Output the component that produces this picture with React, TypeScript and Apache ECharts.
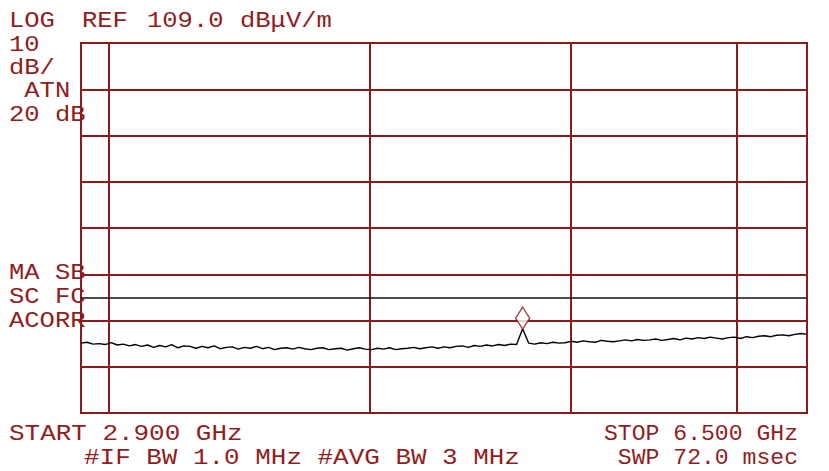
import React, { useEffect, useRef } from "react";
import * as echarts from "echarts";

// ---- data ----
const REF_LEVEL = 109.0; // dBμV/m at top graticule
const DB_PER_DIV = 10;
const DIVISIONS = 8;
const START_GHZ = 2.9;
const STOP_GHZ = 6.5;
const GRID_FREQS_GHZ = [3.04, 4.33, 5.33, 6.15];
const LIMIT_LEVEL = 54.0;
const MARKER_INDEX = 73;
const MARKER_LEVEL = 49.5;
const TRACE_LEVELS = [
  44.1, 44.3, 43.9, 44.0, 43.8, 44.2, 43.7, 43.9, 43.5, 43.8,
  43.4, 43.7, 43.2, 43.6, 43.3, 43.8, 43.1, 43.5, 43.4, 43.0,
  43.4, 43.1, 43.5, 42.9, 43.2, 43.3, 42.8, 43.2, 43.0, 43.4,
  42.9, 43.2, 42.7, 43.0, 43.1, 42.8, 43.2, 42.9, 42.7, 43.0,
  43.1, 42.7, 42.9, 43.0, 42.6, 42.9, 43.1, 42.8, 42.7, 43.0,
  42.8, 43.1, 42.7, 42.9, 43.0, 43.2, 42.9, 43.1, 43.3, 43.0,
  43.3, 43.1, 43.4, 43.5, 43.2, 43.6, 43.4, 43.7, 43.5, 43.8,
  43.6, 43.9, 43.8, 47.2, 44.1, 43.9, 44.2, 44.0, 44.3, 44.1,
  44.2, 44.5, 44.3, 44.6, 44.4, 44.3, 44.7, 44.5, 44.4, 44.6,
  44.8, 44.6, 44.9, 44.7, 44.8, 45.0, 44.7, 44.9, 45.1, 44.8,
  45.2, 45.0, 45.3, 45.1, 45.4, 45.2, 45.0, 45.3, 45.4, 45.1,
  45.5, 45.3, 45.6, 45.7, 45.5, 45.8, 45.9, 45.7, 46.0, 46.2, 46.0,
];
const HEADER_PARTS = ["LOG", "REF", "109.0", "dBμV/m"];
const LEFT_NOTES = ["10", "dB/", " ATN", "20 dB"];
const STATUS_NOTES = ["MA SB", "SC FC", "ACORR"];
const FOOTER_LEFT = ["START 2.900 GHz", "#IF BW 1.0 MHz #AVG BW 3 MHz"];
const FOOTER_RIGHT = ["STOP 6.500 GHz", "SWP 72.0 msec"];

const RED = "#8b1a1a";
const TEXT_RED = "#931c1c";
const FONT = "Liberation Mono";

function txt(text: string, x: number, y: number, align: string, scaleX: number) {
  return {
    type: "text",
    x,
    y,
    scaleX,
    silent: true,
    z: 100,
    style: {
      text,
      fill: TEXT_RED,
      font: `22px "${FONT}"`,
      align,
      verticalAlign: "middle",
    },
  };
}

export default function App() {
  const ref = useRef<HTMLDivElement>(null);
  useEffect(() => {
    if (!ref.current) return;
    const chart = echarts.init(ref.current, undefined, { renderer: "svg" });
    const n = TRACE_LEVELS.length;
    const step = (STOP_GHZ - START_GHZ) / (n - 1);
    const trace = TRACE_LEVELS.map((v, i) => [START_GHZ + i * step, v - REF_LEVEL]);
    const markerFreq = START_GHZ + MARKER_INDEX * step;

    const headerX = [9, 82, 147, 240];
    const graphics: any[] = [];
    HEADER_PARTS.forEach((t, i) => graphics.push(txt(t, headerX[i], 21, "left", 1.16)));
    const leftY = [45, 68, 91, 115];
    LEFT_NOTES.forEach((t, i) => graphics.push(txt(t, 9, leftY[i], "left", 1.16)));
    const statusY = [273, 297, 321];
    STATUS_NOTES.forEach((t, i) => graphics.push(txt(t, 9, statusY[i], "left", 1.16)));
    graphics.push(txt(FOOTER_LEFT[0], 9, 434, "left", 1.18));
    graphics.push(txt(FOOTER_LEFT[1], 84, 458, "left", 1.18));
    graphics.push(txt(FOOTER_RIGHT[0], 798, 434, "right", 1.05));
    graphics.push(txt(FOOTER_RIGHT[1], 798, 458, "right", 1.05));

    chart.setOption({
      animation: false,
      backgroundColor: "#ffffff",
      grid: {
        left: 81,
        right: 22,
        top: 43,
        bottom: 58,
        show: true,
        borderColor: RED,
        borderWidth: 2,
        backgroundColor: "#ffffff",
      },
      xAxis: {
        type: "value",
        min: START_GHZ,
        max: STOP_GHZ,
        axisLine: { show: false },
        axisTick: { show: false },
        axisLabel: { show: false },
        splitLine: { show: false },
      },
      yAxis: {
        type: "value",
        min: -DB_PER_DIV * DIVISIONS,
        max: 0,
        interval: DB_PER_DIV,
        axisLine: { show: false },
        axisTick: { show: false },
        axisLabel: { show: false },
        splitLine: { show: true, lineStyle: { color: RED, width: 2 } },
      },
      series: [
        {
          type: "line",
          data: trace,
          symbol: "none",
          lineStyle: { color: "#000000", width: 1.4 },
          z: 5,
          markLine: {
            silent: true,
            symbol: ["none", "none"],
            label: { show: false },
            animation: false,
            data: [
              ...GRID_FREQS_GHZ.map((f) => ({ xAxis: f, lineStyle: { color: RED, width: 2, type: "solid" } })),
              { yAxis: LIMIT_LEVEL - REF_LEVEL, lineStyle: { color: "#111111", width: 1.5, type: "solid" } },
            ],
          },
        },
        {
          type: "scatter",
          data: [[markerFreq, MARKER_LEVEL - REF_LEVEL]],
          symbol: "diamond",
          symbolSize: [14, 22],
          itemStyle: { color: "#ffffff", borderColor: RED, borderWidth: 1.5 },
          z: 6,
        },
      ],
      graphic: graphics,
    });
    return () => chart.dispose();
  }, []);
  return (
    <div
      ref={ref}
      style={{ position: "absolute", left: 0, top: 0, width: 829, height: 471 }}
    />
  );
}
